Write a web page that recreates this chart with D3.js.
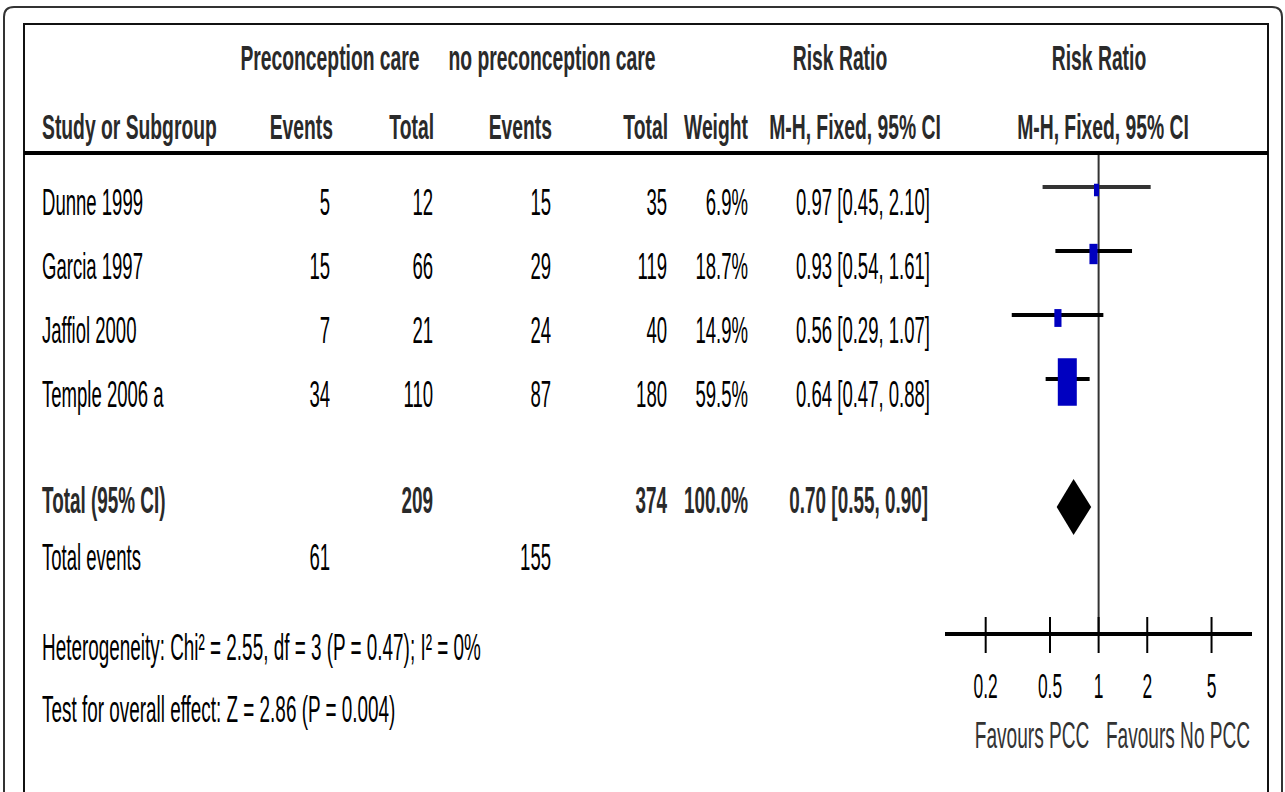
<!DOCTYPE html>
<html lang="en">
<head>
  <meta charset="UTF-8">
  <title>Forest plot - preconception care</title>
  <script src="https://d3js.org/d3.v7.min.js"></script>
  <style>
    body {
      margin: 0;
      padding: 0;
      background-color: white;
    }

    svg {
      display: block;
      background-color: white;
    }

    text {
      font-family: "Liberation Sans", Arial, sans-serif;
      fill: #000;
    }
  </style>
</head>
<body>
  <script>
    // Study data
    const studies = ["Dunne 1999", "Garcia 1997", "Jaffiol 2000", "Temple 2006 a"];
    const pccEvents = [5, 15, 7, 34];
    const pccTotal = [12, 66, 21, 110];
    const noPccEvents = [15, 29, 24, 87];
    const noPccTotal = [35, 119, 40, 180];
    const weights = [6.9, 18.7, 14.9, 59.5];
    const riskRatio = [0.97, 0.93, 0.56, 0.64];
    const ciLow = [0.45, 0.54, 0.29, 0.47];
    const ciHigh = [2.10, 1.61, 1.07, 0.88];

    // Pooled result: [estimate, lower, upper]
    const pooled = [0.70, 0.55, 0.90];
    const pooledTotals = [209, 374];
    const totalEvents = [61, 155];
    const axisTicks = [0.2, 0.5, 1, 2, 5];

    const heterogeneity = "Heterogeneity: Chi² = 2.55, df = 3 (P = 0.47); I² = 0%";
    const overallTest = "Test for overall effect: Z = 2.86 (P = 0.004)";

    const width = 1285;
    const height = 792;

    const svg = d3.select("body").append("svg")
      .attr("width", width)
      .attr("height", height);

    // log scale for the risk ratio panel
    const x = d3.scaleLog()
      .domain([0.112, 8.9])
      .range([945, 1252]);

    // box width from weight (boxes come out tall and narrow in the original)
    const boxW = d3.scaleLinear()
      .domain([6.9, 59.5])
      .range([5, 19]);

    // helper for the condensed text
    function label(px, py, str, opts) {
      const o = Object.assign({ size: 36, weight: "normal", anchor: "start", sx: 0.515, sy: 1.04, fill: "#000" }, opts);
      svg.append("text")
        .attr("transform", `translate(${px},${py}) scale(${o.sx},${o.sy})`)
        .attr("text-anchor", o.anchor)
        .attr("font-size", o.size)
        .attr("font-weight", o.weight)
        .style("fill", o.fill)
        .text(str);
    }

    // frames
    svg.append("path")
      .attr("d", "M4,800 L4,17 Q4,7 14,7 L1272,7 Q1282,7 1282,17 L1282,800")
      .attr("fill", "none")
      .attr("stroke", "#333")
      .attr("stroke-width", 2);

    svg.append("path")
      .attr("d", "M24,800 L24,24 L1268,24 L1268,800")
      .attr("fill", "none")
      .attr("stroke", "#111")
      .attr("stroke-width", 2);

    svg.append("line")
      .attr("x1", 24).attr("x2", 1268)
      .attr("y1", 153).attr("y2", 153)
      .attr("stroke", "#000")
      .attr("stroke-width", 4);

    // column headers
    const hdr = { size: 33, weight: "bold", sx: 0.585, sy: 1.06, fill: "#2a2a2a" };
    const hdr1 = 70, hdr2 = 139;
    label(330, hdr1, "Preconception care", Object.assign({ anchor: "middle" }, hdr));
    label(552, hdr1, "no preconception care", Object.assign({ anchor: "middle" }, hdr));
    label(840, hdr1, "Risk Ratio", Object.assign({ anchor: "middle" }, hdr));
    label(1099, hdr1, "Risk Ratio", Object.assign({ anchor: "middle" }, hdr));

    label(42, hdr2, "Study or Subgroup", hdr);
    label(333, hdr2, "Events", Object.assign({ anchor: "end" }, hdr));
    label(434, hdr2, "Total", Object.assign({ anchor: "end" }, hdr));
    label(552, hdr2, "Events", Object.assign({ anchor: "end" }, hdr));
    label(668, hdr2, "Total", Object.assign({ anchor: "end" }, hdr));
    label(748, hdr2, "Weight", Object.assign({ anchor: "end" }, hdr));
    label(855, hdr2, "M-H, Fixed, 95% CI", Object.assign({ anchor: "middle" }, hdr));
    label(1103, hdr2, "M-H, Fixed, 95% CI", Object.assign({ anchor: "middle" }, hdr));

    // reference line at RR = 1
    svg.append("line")
      .attr("x1", x(1)).attr("x2", x(1))
      .attr("y1", 155).attr("y2", 634)
      .attr("stroke", "#333")
      .attr("stroke-width", 2);

    const fmt = d3.format(".2f");
    const rowY = i => 215 + i * 64;

    studies.forEach((s, i) => {
      const y = rowY(i);
      label(42, y, s);
      label(330, y, pccEvents[i], { anchor: "end" });
      label(433, y, pccTotal[i], { anchor: "end" });
      label(551, y, noPccEvents[i], { anchor: "end" });
      label(667, y, noPccTotal[i], { anchor: "end" });
      label(748, y, weights[i].toFixed(1) + "%", { anchor: "end" });
      label(930, y, `${fmt(riskRatio[i])} [${fmt(ciLow[i])}, ${fmt(ciHigh[i])}]`, { anchor: "end" });

      // CI line and box
      const my = y - 28;
      svg.append("line")
        .attr("x1", x(ciLow[i])).attr("x2", x(ciHigh[i]))
        .attr("y1", my).attr("y2", my)
        .attr("stroke", i === 0 ? "#333" : "#000")
        .attr("stroke-width", 4);

      const w = boxW(weights[i]);
      const h = w * 2.5;
      svg.append("rect")
        .attr("x", x(riskRatio[i]) - w / 2)
        .attr("y", my + 3 - h / 2)
        .attr("width", w)
        .attr("height", h)
        .attr("fill", "#0000c0");
    });

    // pooled row
    const totY = 513;
    const bold = { size: 35, weight: "bold", sx: 0.54, sy: 1.06, fill: "#2a2a2a" };
    label(42, totY, "Total (95% CI)", bold);
    label(433, totY, pooledTotals[0], Object.assign({ anchor: "end" }, bold));
    label(667, totY, pooledTotals[1], Object.assign({ anchor: "end" }, bold));
    label(748, totY, "100.0%", Object.assign({ anchor: "end" }, bold));
    label(928, totY, `${fmt(pooled[0])} [${fmt(pooled[1])}, ${fmt(pooled[2])}]`, Object.assign({ anchor: "end" }, bold));

    const dy = 507;
    svg.append("path")
      .attr("d", `M${x(pooled[1])},${dy} L${x(pooled[0])},${dy - 28} L${x(pooled[2])},${dy} L${x(pooled[0])},${dy + 28} Z`)
      .attr("fill", "#000");

    // total events
    label(42, 570, "Total events");
    label(330, 570, totalEvents[0], { anchor: "end" });
    label(551, 570, totalEvents[1], { anchor: "end" });

    // footnotes
    label(42, 660, heterogeneity, { size: 35, sx: 0.54 });
    label(42, 722, overallTest, { size: 35, sx: 0.54 });

    // axis
    const axisY = 634;
    svg.append("line")
      .attr("x1", 945).attr("x2", 1252)
      .attr("y1", axisY).attr("y2", axisY)
      .attr("stroke", "#000")
      .attr("stroke-width", 4);

    svg.selectAll(".tick")
      .data(axisTicks)
      .enter().append("line")
      .attr("class", "tick")
      .attr("x1", d => x(d)).attr("x2", d => x(d))
      .attr("y1", 617).attr("y2", 653)
      .attr("stroke", "#000")
      .attr("stroke-width", 2);

    axisTicks.forEach(t => {
      label(x(t), 698, t, { anchor: "middle", size: 33.5, sx: 0.52, sy: 1.06 });
    });

    label(1032, 748, "Favours PCC", { anchor: "middle", size: 36, sx: 0.53, fill: "#333" });
    label(1178, 748, "Favours No PCC", { anchor: "middle", size: 36, sx: 0.53, fill: "#333" });
  </script>
</body>
</html>
